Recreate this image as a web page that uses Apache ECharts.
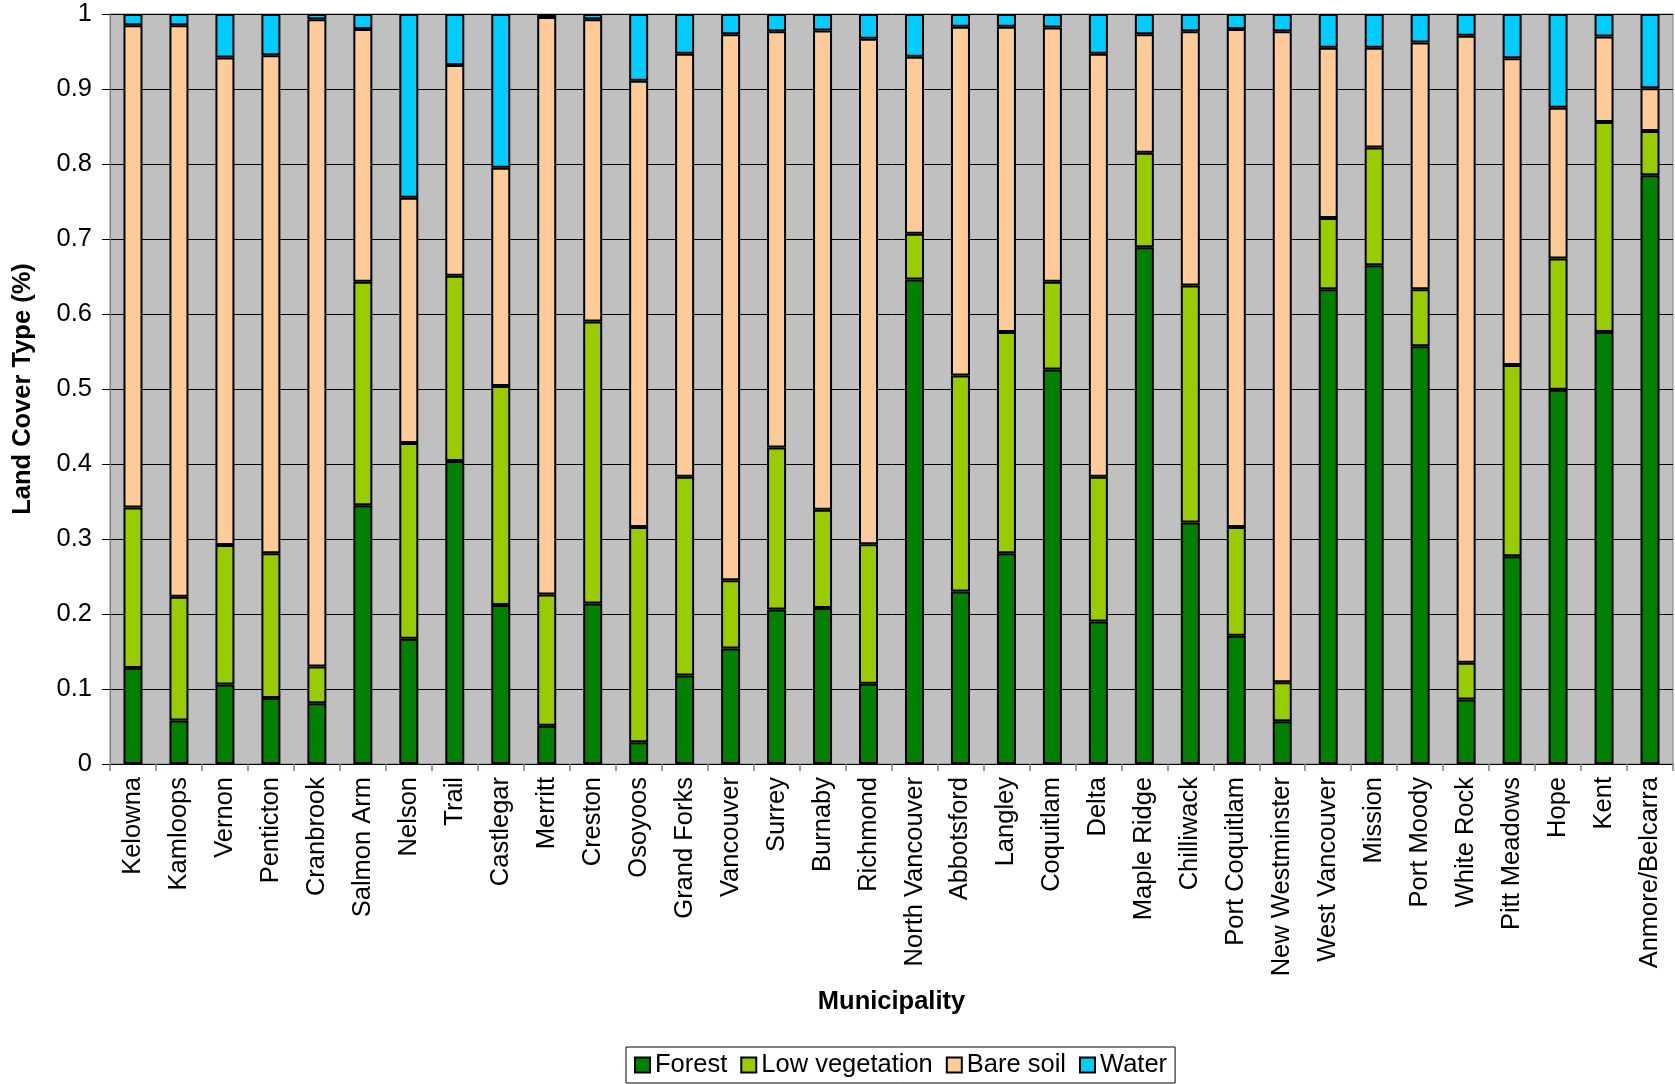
<!DOCTYPE html>
<html>
<head>
<meta charset="utf-8">
<script src="https://cdn.jsdelivr.net/npm/echarts@6/dist/echarts.min.js"></script>
<style>html,body{margin:0;padding:0;background:#fff}#c{width:1675px;height:1084px}</style>
</head>
<body>
<div id="c"></div>
<script>
const categories = ["Kelowna","Kamloops","Vernon","Penticton","Cranbrook","Salmon Arm","Nelson","Trail","Castlegar","Merritt","Creston","Osoyoos","Grand Forks","Vancouver","Surrey","Burnaby","Richmond","North Vancouver","Abbotsford","Langley","Coquitlam","Delta","Maple Ridge","Chilliwack","Port Coquitlam","New Westminster","West Vancouver","Mission","Port Moody","White Rock","Pitt Meadows","Hope","Kent","Anmore/Belcarra"];
const forest = [0.128,0.058,0.106,0.088,0.081,0.345,0.167,0.404,0.212,0.051,0.214,0.029,0.118,0.154,0.206,0.208,0.107,0.646,0.230,0.281,0.526,0.190,0.689,0.322,0.171,0.057,0.633,0.665,0.557,0.086,0.277,0.499,0.576,0.785];
const lowVegetation = [0.214,0.165,0.186,0.193,0.049,0.298,0.261,0.247,0.292,0.175,0.376,0.287,0.265,0.091,0.216,0.131,0.186,0.061,0.288,0.295,0.117,0.193,0.126,0.316,0.145,0.052,0.095,0.157,0.076,0.049,0.255,0.175,0.280,0.059];
const bareSoil = [0.643,0.762,0.650,0.664,0.863,0.337,0.327,0.281,0.291,0.770,0.403,0.595,0.564,0.728,0.555,0.639,0.674,0.236,0.465,0.407,0.339,0.564,0.158,0.339,0.664,0.868,0.227,0.133,0.329,0.836,0.409,0.201,0.114,0.057];
const water = [0.015,0.015,0.058,0.055,0.007,0.020,0.245,0.068,0.205,0.004,0.007,0.089,0.053,0.027,0.023,0.022,0.033,0.057,0.017,0.017,0.018,0.053,0.027,0.023,0.020,0.023,0.045,0.045,0.038,0.029,0.059,0.125,0.030,0.099];
const yTicks = ["0","0.1","0.2","0.3","0.4","0.5","0.6","0.7","0.8","0.9","1"];

const FONT = 'Liberation Sans, Arial, sans-serif';
const FS = 25.5;
const mk = (name, data, color) => ({
  name, type: 'bar', stack: 'total', data, barWidth: 19,
  itemStyle: { color, borderColor: '#000', borderWidth: 2 },
  emphasis: { disabled: true }
});
const chart = echarts.init(document.getElementById('c'), null, { renderer: 'canvas' });
chart.setOption({
  animation: false,
  backgroundColor: '#fff',
  grid: { left: 110, top: 14, right: 2, bottom: 320, show: true, backgroundColor: '#C0C0C0', borderColor: '#808080', borderWidth: 1 },
  legend: {
    left: 626, top: 1047, padding: [5, 8, 5, 8], itemGap: 13, itemWidth: 15, itemHeight: 15,
    borderColor: '#000', borderWidth: 1, icon: 'rect',
    textStyle: { fontFamily: FONT, fontSize: FS, color: '#000' },
    data: ['Forest', 'Low vegetation', 'Bare soil', 'Water']
  },
  xAxis: {
    type: 'category', data: categories,
    name: 'Municipality', nameLocation: 'middle', nameGap: 225,
    nameTextStyle: { fontFamily: FONT, fontSize: FS, fontWeight: 'bold', color: '#000' },
    axisLine: { show: true, lineStyle: { color: '#000', width: 1 } },
    axisTick: { show: true, length: 7, lineStyle: { color: '#808080', width: 1.5 } },
    axisLabel: { rotate: 90, margin: 13, fontFamily: FONT, fontSize: FS, color: '#000', interval: 0 },
    splitLine: { show: false }
  },
  yAxis: {
    type: 'value', min: 0, max: 1, interval: 0.1,
    name: 'Land Cover Type (%)', nameLocation: 'middle', nameGap: 74,
    nameTextStyle: { fontFamily: FONT, fontSize: FS, fontWeight: 'bold', color: '#000' },
    axisLine: { show: true, lineStyle: { color: '#808080', width: 1 } },
    axisTick: { show: true, length: 8, lineStyle: { color: '#000', width: 1 } },
    axisLabel: { margin: 18, fontFamily: FONT, fontSize: FS, color: '#000',
      formatter: (v) => yTicks[Math.round(v * 10)] },
    splitLine: { show: true, lineStyle: { color: '#000', width: 1 } }
  },
  series: [
    mk('Forest', forest, '#008000'),
    mk('Low vegetation', lowVegetation, '#99CC00'),
    mk('Bare soil', bareSoil, '#FFCC99'),
    mk('Water', water, '#00CCFF')
  ]
});
</script>
</body>
</html>
